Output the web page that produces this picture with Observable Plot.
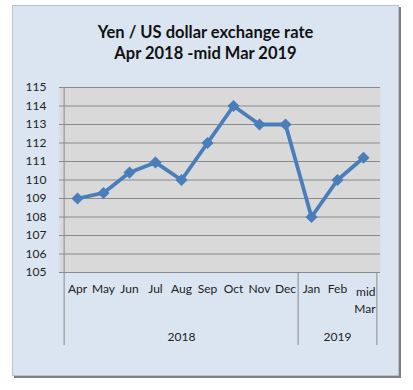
<!DOCTYPE html>
<html><head><meta charset="utf-8">
<script src="https://cdn.jsdelivr.net/npm/d3@7"></script>
<script src="https://cdn.jsdelivr.net/npm/@observablehq/plot@0.6"></script>
<style>
body{margin:0;background:#fff;}
#wrap{position:relative;width:413px;height:390px;overflow:hidden;font-family:Lato,"Open Sans",sans-serif;}
#frame{position:absolute;left:12px;top:5px;width:385px;height:369px;background:#dbe5f1;border:1px solid #b9c3cf;box-shadow:2px 2px 0 #7f7f7f;}
#title{position:absolute;left:12px;width:387px;top:22px;text-align:center;font-weight:bold;font-size:16.5px;line-height:21px;color:#111;}
#chart{position:absolute;left:0;top:75px;}
</style></head><body>
<div id="wrap"><div id="frame"></div><div id="title">Yen / US dollar exchange rate<br>Apr 2018 -mid Mar 2019</div><div id="chart"></div></div>
<script>
const months = ["Apr","May","Jun","Jul","Aug","Sep","Oct","Nov","Dec","Jan","Feb","mid Mar"];
const monthLabels = ["Apr","May","Jun","Jul","Aug","Sep","Oct","Nov","Dec","Jan","Feb","mid\nMar"];
const monthYears = ["2018","2018","2018","2018","2018","2018","2018","2018","2018","2019","2019","2019"];
const rates = [109.0,109.3,110.4,110.95,110.0,112.0,114.0,113.0,113.0,108.0,110.0,111.2];
const yTicks = [105,106,107,108,109,110,111,112,113,114,115];

const data = months.map((m,i)=>({month:m,label:monthLabels[i],year:monthYears[i],rate:rates[i]}));
const yearNames = Array.from(new Set(monthYears));
const yearGroups = yearNames.map(y=>{const ms=data.filter(d=>d.year===y);return {year:y,mid:ms[Math.floor(ms.length/2)].month,first:ms[0].month,last:ms[ms.length-1].month};});
const yMin = yTicks[0], yMax = yTicks[yTicks.length-1];
const lastLabel = data.slice(-1), otherLabels = data.slice(0,-1);
const halfStep = (413-59-33)/months.length/2;

const chart = Plot.plot({
  width:413, height:285,
  marginLeft:59, marginRight:33, marginTop:12, marginBottom:88,
  style:{fontFamily:"Lato, 'Open Sans', sans-serif", fontSize:"12px", color:"#222", background:"transparent", overflow:"visible"},
  x:{type:"point", domain:months, padding:0.5, axis:null},
  y:{domain:[yMin,yMax], ticks:yTicks, tickSize:0, tickPadding:13, label:null, tickFormat:d=>String(d)},
  marks:[
    Plot.frame({fill:"#d9d9d9", stroke:null}),
    Plot.ruleY(yTicks,{stroke:"#8a8a8a", strokeWidth:1}),
    Plot.ruleX([0],{x:()=>months[0], dx:-halfStep, stroke:"#8a8a8a"}),
    Plot.ruleX(yearGroups,{x:"first", y1:yMin, y2:yMin-3.95, dx:-halfStep, stroke:"#8a8a8a", clip:false}),
    Plot.ruleX(yearGroups.slice(-1),{x:"last", y1:yMin, y2:yMin-3.95, dx:halfStep, stroke:"#8a8a8a", clip:false}),
    Plot.line(data,{x:"month", y:"rate", stroke:"#4a7ebb", strokeWidth:3.8, strokeLinejoin:"round"}),
    Plot.dot(data,{x:"month", y:"rate", symbol:"diamond2", r:4.5, fill:"#4a7ebb", stroke:"#4a7ebb"}),
    Plot.text(otherLabels,{x:"month", y:()=>yMin, text:"label", lineAnchor:"top", dy:12, fill:"#222"}),
    Plot.text(lastLabel,{x:"month", y:()=>yMin, text:"label", lineAnchor:"top", dy:12, dx:12, textAnchor:"end", lineHeight:1.4, fill:"#222"}),
    Plot.text(yearGroups,{x:"mid", y:()=>yMin, text:"year", dy:65, fill:"#222"})
  ]
});
document.getElementById("chart").appendChild(chart);
</script></body></html>
